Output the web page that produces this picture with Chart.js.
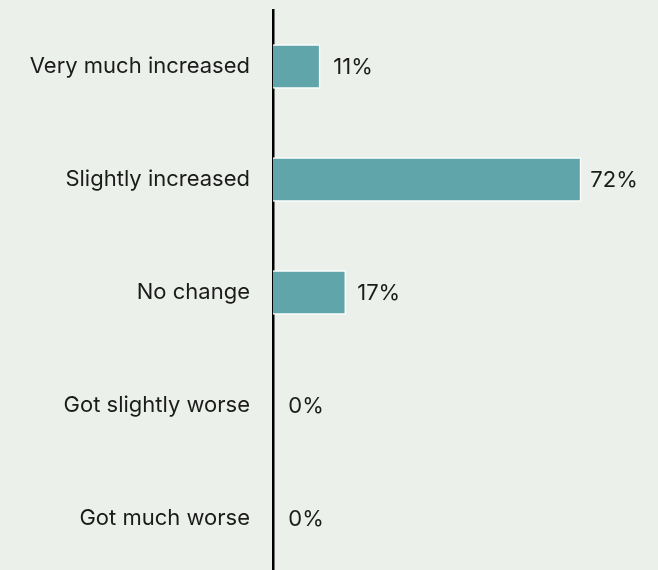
<!DOCTYPE html>
<html>
<head>
<meta charset="utf-8">
<script src="https://cdn.jsdelivr.net/npm/chart.js@4"></script>
<style>
  html, body { margin: 0; padding: 0; background: #ecf0ea; overflow: hidden; }
  #chart { display: block; }
</style>
</head>
<body>
<canvas id="chart" width="658" height="575"></canvas>
<script>
let categories = ['Very much increased', 'Slightly increased', 'No change', 'Got slightly worse', 'Got much worse'];
let shares = [11, 72, 17, 0, 0];
let share_labels = ['11%', '72%', '17%', '0%', '0%'];

let font_family = 'Inter, "Liberation Sans", Arial, sans-serif';
let text_color = '#1b1b1b';

// value text to the right of each bar
const valueLabels = {
    id: 'valueLabels',
    afterDatasetsDraw(chart) {
        const ctx = chart.ctx;
        const meta = chart.getDatasetMeta(0);
        ctx.save();
        ctx.font = '22px ' + font_family;
        ctx.fillStyle = text_color;
        ctx.textAlign = 'center';
        ctx.textBaseline = 'middle';
        meta.data.forEach(function (bar, i) {
            ctx.fillText(share_labels[i], bar.x + 33, bar.y + 1);
        });
        ctx.restore();
    }
};

new Chart(document.getElementById('chart'), {
    type: 'bar',
    data: {
        labels: categories,
        datasets: [{
            data: shares,
            backgroundColor: '#60a5aa',
            borderColor: '#ffffff',
            borderWidth: 1.5,
            barThickness: 44
        }]
    },
    options: {
        indexAxis: 'y',
        responsive: false,
        animation: false,
        layout: { padding: { top: 10, right: 0, bottom: 0, left: 0 } },
        plugins: {
            legend: { display: false },
            tooltip: { enabled: false }
        },
        scales: {
            x: {
                display: false,
                min: 0,
                max: 90
            },
            y: {
                afterFit: function (scale) {
                    scale.width = 273;
                    scale.paddingTop = 0;
                    scale.paddingBottom = 0;
                },
                grid: { display: true, color: 'rgba(0,0,0,0)', drawTicks: false },
                border: { display: true, color: '#000000', width: 2.5 },
                ticks: {
                    padding: 23,
                    color: text_color,
                    font: { family: font_family, size: 22 }
                }
            }
        }
    },
    plugins: [valueLabels]
});
</script>
</body>
</html>
